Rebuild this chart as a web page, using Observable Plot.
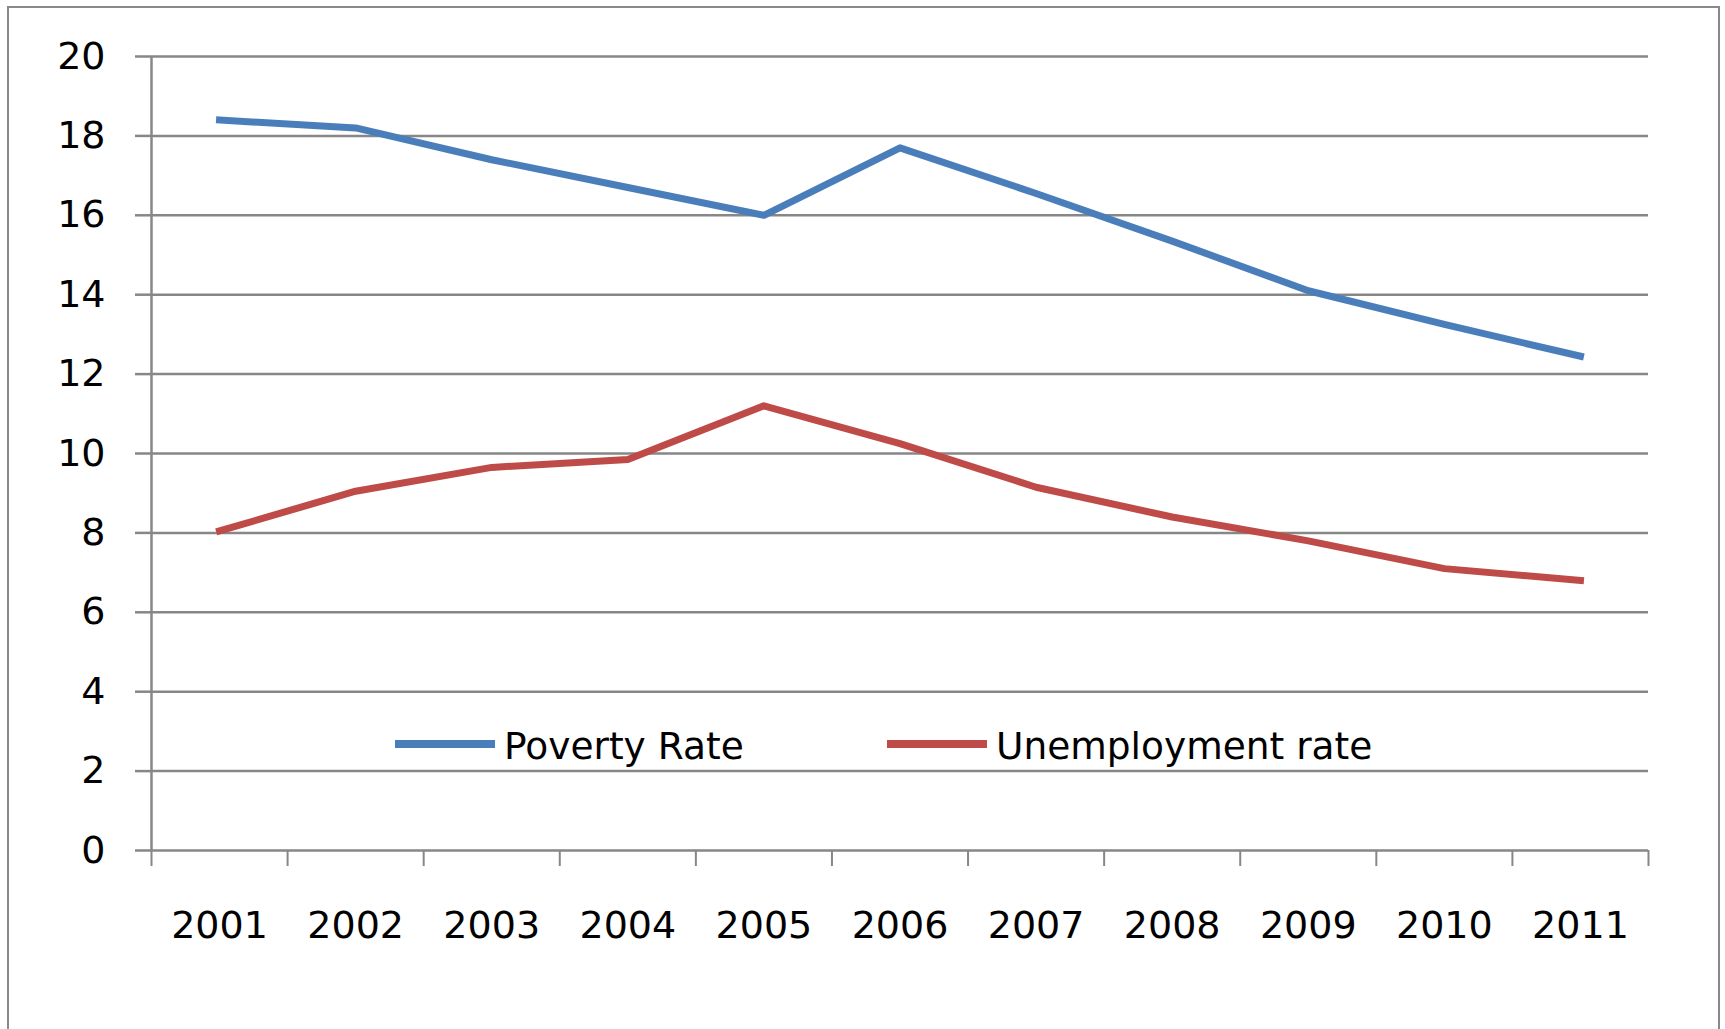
<!DOCTYPE html>
<html><head><meta charset="utf-8">
<script src="https://cdn.jsdelivr.net/npm/d3@7"></script>
<script src="https://cdn.jsdelivr.net/npm/@observablehq/plot@0.6"></script>
<style>
html,body{margin:0;padding:0;background:#fff;overflow:hidden;}
#wrap{position:relative;width:1725px;height:1029px;overflow:hidden;font-family:"DejaVu Sans",sans-serif;background:#fff;}
#border{position:absolute;left:7px;top:6px;width:1713px;height:1100px;box-sizing:border-box;border:2px solid #898989;}
#chart{position:absolute;left:0;top:0;}
.sw{position:absolute;height:8px;width:100px;}
.lt{position:absolute;font-size:37.5px;line-height:38px;color:#000;white-space:nowrap;}
</style></head><body>
<div id="wrap"><div id="border"></div><div id="chart"></div><div id="legend"></div></div>
<script>
const years = [2001, 2002, 2003, 2004, 2005, 2006, 2007, 2008, 2009, 2010, 2011];
const povertyRate = [18.4, 18.2, 17.4, 16.7, 16.0, 17.7, 16.55, 15.35, 14.1, 13.25, 12.45];
const unemploymentRate = [8.05, 9.05, 9.65, 9.85, 11.2, 10.25, 9.15, 8.4, 7.8, 7.1, 6.8];
const seriesNames = ["Poverty Rate", "Unemployment rate"];
const seriesColors = ["#4A7EBB", "#BE4B48"];
const yTicks = [0, 2, 4, 6, 8, 10, 12, 14, 16, 18, 20];

const rows = years.flatMap((yr, i) => [
  {year: yr, value: povertyRate[i], series: seriesNames[0]},
  {year: yr, value: unemploymentRate[i], series: seriesNames[1]}
]);
const boundaries = years.map(y => y - 0.5).concat([years[years.length - 1] + 0.5]);
const gridColor = "#878787";

const chart = Plot.plot({
  width: 1725, height: 1029,
  marginLeft: 151, marginRight: 77, marginTop: 56, marginBottom: 179,
  style: {fontFamily: "DejaVu Sans", fontSize: "38px", color: "#000", background: "transparent", overflow: "visible"},
  x: {type: "linear", domain: [boundaries[0], boundaries[boundaries.length - 1]]},
  y: {domain: [yTicks[0], yTicks[yTicks.length - 1]]},
  color: {domain: seriesNames, range: seriesColors},
  marks: [
    Plot.gridY(yTicks, {stroke: gridColor, strokeOpacity: 1, strokeWidth: 2.5}),
    Plot.axisY(yTicks, {tickSize: 16, tickPadding: 30, stroke: gridColor, strokeWidth: 2.5, fill: "#000", fontSize: 38, label: null}),
    Plot.ruleX([boundaries[0]], {stroke: gridColor, strokeWidth: 2.5}),
    Plot.axisX(boundaries, {tickSize: 16, tickFormat: () => "", stroke: gridColor, strokeWidth: 2, label: null}),
    Plot.axisX(years, {tickSize: 0, tickPadding: 61, tickFormat: "d", fill: "#000", fontSize: 38, label: null}),
    Plot.line(rows, {x: "year", y: "value", stroke: "series", z: "series", strokeWidth: 7, strokeLinejoin: "round", strokeLinecap: "square"})
  ]
});
document.getElementById("chart").appendChild(chart);

// legend overlay (inside plot area, as in the reference)
const legendPos = [{sx: 395, tx: 504}, {sx: 887, tx: 996}];
const legend = d3.select("#legend");
seriesNames.forEach((name, i) => {
  legend.append("div").attr("class", "sw")
    .style("left", legendPos[i].sx + "px").style("top", "740px")
    .style("background", seriesColors[i]);
  legend.append("div").attr("class", "lt")
    .style("left", legendPos[i].tx + "px").style("top", "727px")
    .text(name);
});
</script>
</body></html>
